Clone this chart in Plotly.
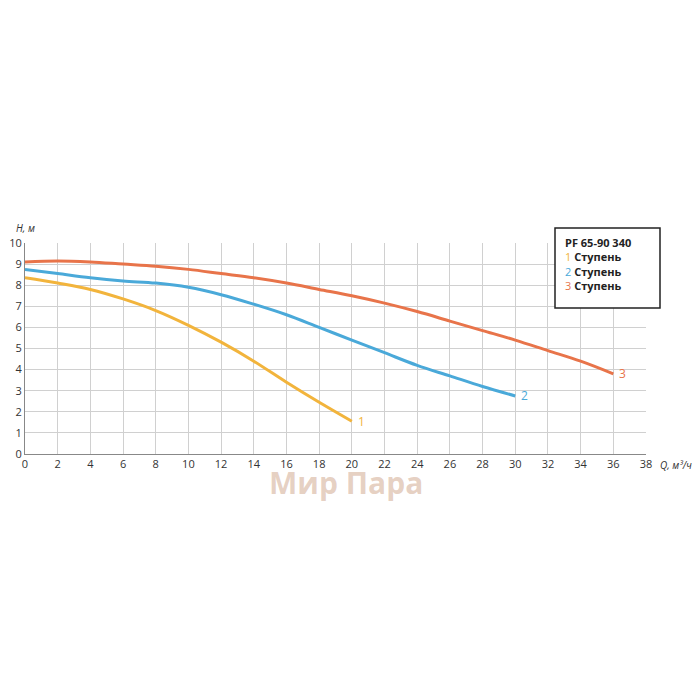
import plotly.graph_objects as go

q1 = [0, 2, 4, 6, 8, 10, 12, 14, 16, 18, 20]
h1 = [8.35, 8.1, 7.8, 7.35, 6.8, 6.1, 5.3, 4.4, 3.4, 2.45, 1.55]
q2 = [0, 2, 4, 6, 8, 10, 12, 14, 16, 18, 20, 22, 24, 26, 28, 30]
h2 = [8.75, 8.55, 8.35, 8.2, 8.1, 7.9, 7.55, 7.1, 6.6, 6.0, 5.4, 4.8, 4.2, 3.7, 3.2, 2.75]
q3 = [0, 2, 4, 6, 8, 10, 12, 14, 16, 18, 20, 22, 24, 26, 28, 30, 32, 34, 36]
h3 = [9.1, 9.15, 9.1, 9.0, 8.9, 8.75, 8.55, 8.35, 8.1, 7.8, 7.5, 7.15, 6.75, 6.3, 5.85, 5.4, 4.9, 4.4, 3.8]
xticks = list(range(0, 40, 2))
yticks = list(range(0, 11))
colors = ["#F2B43C", "#4AA9D9", "#E8744A"]
labels = ["1", "2", "3"]

fig = go.Figure()
for q, h, c, lab in zip([q1, q2, q3], [h1, h2, h3], colors, labels):
    fig.add_trace(go.Scatter(x=q, y=h, mode="lines", line=dict(color=c, width=3, shape="spline"),
                             showlegend=False, hoverinfo="skip"))
    fig.add_annotation(x=q[-1], y=h[-1], text=lab, showarrow=False, xanchor="left", xshift=4,
                       font=dict(color=c, size=12))

font = "Open Sans"
fig.update_layout(
    width=700, height=700, paper_bgcolor="white", plot_bgcolor="white",
    margin=dict(l=17, r=62, t=235, b=254, autoexpand=False),
    font=dict(family=font, size=11, color="#333"),
    xaxis=dict(range=[0, 38], tickvals=xticks, showgrid=True, gridcolor="#d0d0d0", automargin=False,
               showline=True, linecolor="#888", zeroline=False, ticks="", tickfont=dict(size=11)),
    yaxis=dict(range=[0, 10], tickvals=yticks, showgrid=True, gridcolor="#d0d0d0", automargin=False,
               showline=True, linecolor="#888", zeroline=False, ticks="", tickfont=dict(size=11)),
)
fig.add_annotation(xref="paper", yref="paper", x=-0.018, y=1.03, text="<i>H, м</i>", showarrow=False,
                   xanchor="left", yanchor="bottom", font=dict(size=10))
fig.add_annotation(xref="paper", yref="paper", x=1.02, y=-0.01, text="<i>Q, м³/ч</i>", showarrow=False,
                   xanchor="left", yanchor="top", font=dict(size=10))
fig.add_shape(type="rect", xref="paper", yref="paper", x0=(555-25)/621, x1=(660-25)/621,
              y0=(454-308)/211, y1=(454-228)/211, line=dict(color="#222", width=1.5), fillcolor="white")
legend_text = ("<b>PF 65-90 340</b><br>" +
               "<br>".join(f"<span style='color:{c}'>{l}</span> <b>Ступень</b>" for c, l in zip(colors, labels)))
fig.add_annotation(xref="paper", yref="paper", x=(563-25)/621, y=(454-233)/211, text=legend_text,
                   showarrow=False, xanchor="left", yanchor="top", align="left", font=dict(size=11, color="#222"))
fig.add_annotation(xref="paper", yref="paper", x=(346-25)/621, y=(454-505)/211, text="<b>Мир Пара</b>",
                   showarrow=False, font=dict(size=30, color="rgba(200,150,120,0.45)"))
fig.write_html("out.html")
